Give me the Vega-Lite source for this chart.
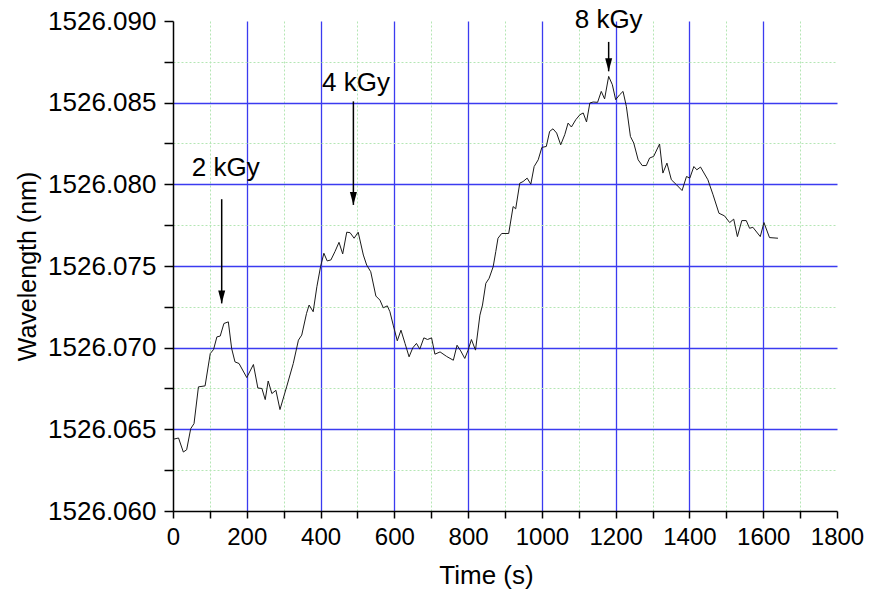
{
  "$schema": "https://vega.github.io/schema/vega-lite/v6.json",
  "width": 664,
  "height": 490,
  "autosize": {"type": "none"},
  "padding": {"left": 173, "top": 21, "right": 32, "bottom": 82},
  "background": "white",
  "config": {"view": {"stroke": null}},
  "datasets": {
    "series": [
      {"t": 0, "w": 1526.06439}, {"t": 15, "w": 1526.06447}, {"t": 28, "w": 1526.06361}, {"t": 37, "w": 1526.06375},
      {"t": 48, "w": 1526.06504}, {"t": 57, "w": 1526.06535}, {"t": 69, "w": 1526.0676}, {"t": 87, "w": 1526.06766},
      {"t": 101, "w": 1526.06964}, {"t": 110, "w": 1526.06989}, {"t": 119, "w": 1526.07066}, {"t": 128, "w": 1526.07071},
      {"t": 138, "w": 1526.07148}, {"t": 150, "w": 1526.07158}, {"t": 159, "w": 1526.06995}, {"t": 168, "w": 1526.06913},
      {"t": 179, "w": 1526.06903}, {"t": 200, "w": 1526.06817}, {"t": 218, "w": 1526.06897}, {"t": 230, "w": 1526.06753},
      {"t": 241, "w": 1526.0675}, {"t": 250, "w": 1526.06682}, {"t": 258, "w": 1526.06796}, {"t": 268, "w": 1526.06719},
      {"t": 279, "w": 1526.06739}, {"t": 290, "w": 1526.06621}, {"t": 308, "w": 1526.0676}, {"t": 326, "w": 1526.06903},
      {"t": 340, "w": 1526.07046}, {"t": 349, "w": 1526.07077}, {"t": 362, "w": 1526.0721}, {"t": 369, "w": 1526.07261},
      {"t": 380, "w": 1526.0722}, {"t": 390, "w": 1526.07373}, {"t": 400, "w": 1526.07496}, {"t": 409, "w": 1526.07578},
      {"t": 418, "w": 1526.07531}, {"t": 428, "w": 1526.07537}, {"t": 439, "w": 1526.07588}, {"t": 450, "w": 1526.07645},
      {"t": 460, "w": 1526.07574}, {"t": 471, "w": 1526.07707}, {"t": 480, "w": 1526.07704}, {"t": 491, "w": 1526.0767},
      {"t": 502, "w": 1526.07707}, {"t": 516, "w": 1526.07567}, {"t": 525, "w": 1526.07506}, {"t": 536, "w": 1526.07465},
      {"t": 550, "w": 1526.07316}, {"t": 561, "w": 1526.07291}, {"t": 570, "w": 1526.07244}, {"t": 581, "w": 1526.07256},
      {"t": 588, "w": 1526.0722}, {"t": 597, "w": 1526.07138}, {"t": 608, "w": 1526.07042}, {"t": 618, "w": 1526.07107},
      {"t": 629, "w": 1526.07026}, {"t": 640, "w": 1526.06944}, {"t": 650, "w": 1526.06999}, {"t": 660, "w": 1526.07026},
      {"t": 669, "w": 1526.06991}, {"t": 680, "w": 1526.0706}, {"t": 690, "w": 1526.0705}, {"t": 701, "w": 1526.0706},
      {"t": 710, "w": 1526.0696}, {"t": 724, "w": 1526.06974}, {"t": 742, "w": 1526.06946}, {"t": 760, "w": 1526.06923},
      {"t": 770, "w": 1526.07015}, {"t": 780, "w": 1526.0698}, {"t": 791, "w": 1526.06934}, {"t": 800, "w": 1526.06985},
      {"t": 809, "w": 1526.0705}, {"t": 820, "w": 1526.06985}, {"t": 832, "w": 1526.07199}, {"t": 839, "w": 1526.07261},
      {"t": 848, "w": 1526.07394}, {"t": 857, "w": 1526.07425}, {"t": 868, "w": 1526.07496}, {"t": 875, "w": 1526.07588},
      {"t": 881, "w": 1526.0767}, {"t": 891, "w": 1526.07699}, {"t": 910, "w": 1526.07699}, {"t": 922, "w": 1526.07864},
      {"t": 929, "w": 1526.0785}, {"t": 940, "w": 1526.08007}, {"t": 949, "w": 1526.08017}, {"t": 960, "w": 1526.08038},
      {"t": 970, "w": 1526.08001}, {"t": 979, "w": 1526.08109}, {"t": 990, "w": 1526.0815}, {"t": 1000, "w": 1526.08226},
      {"t": 1012, "w": 1526.08232}, {"t": 1021, "w": 1526.08324}, {"t": 1030, "w": 1526.0834}, {"t": 1040, "w": 1526.08314},
      {"t": 1051, "w": 1526.08242}, {"t": 1062, "w": 1526.08304}, {"t": 1071, "w": 1526.08375}, {"t": 1080, "w": 1526.08351},
      {"t": 1092, "w": 1526.08396}, {"t": 1103, "w": 1526.08426}, {"t": 1112, "w": 1526.08437}, {"t": 1121, "w": 1526.08382},
      {"t": 1130, "w": 1526.08498}, {"t": 1139, "w": 1526.08504}, {"t": 1151, "w": 1526.08502}, {"t": 1161, "w": 1526.08569},
      {"t": 1170, "w": 1526.08523}, {"t": 1181, "w": 1526.08661}, {"t": 1191, "w": 1526.0861}, {"t": 1200, "w": 1526.08518},
      {"t": 1211, "w": 1526.08549}, {"t": 1220, "w": 1526.08569}, {"t": 1229, "w": 1526.08477}, {"t": 1240, "w": 1526.08293},
      {"t": 1249, "w": 1526.08253}, {"t": 1261, "w": 1526.0815}, {"t": 1272, "w": 1526.08115}, {"t": 1283, "w": 1526.08115},
      {"t": 1292, "w": 1526.08161}, {"t": 1303, "w": 1526.08171}, {"t": 1319, "w": 1526.08247}, {"t": 1328, "w": 1526.08069},
      {"t": 1339, "w": 1526.0813}, {"t": 1351, "w": 1526.08028}, {"t": 1365, "w": 1526.07997}, {"t": 1380, "w": 1526.07962},
      {"t": 1392, "w": 1526.08048}, {"t": 1401, "w": 1526.08038}, {"t": 1412, "w": 1526.08109}, {"t": 1420, "w": 1526.08089},
      {"t": 1430, "w": 1526.08106}, {"t": 1450, "w": 1526.08028}, {"t": 1464, "w": 1526.07936}, {"t": 1480, "w": 1526.07823},
      {"t": 1495, "w": 1526.07807}, {"t": 1509, "w": 1526.07766}, {"t": 1520, "w": 1526.07787}, {"t": 1530, "w": 1526.0768},
      {"t": 1542, "w": 1526.07778}, {"t": 1554, "w": 1526.07778}, {"t": 1563, "w": 1526.07731}, {"t": 1572, "w": 1526.07737},
      {"t": 1592, "w": 1526.0768}, {"t": 1602, "w": 1526.07766}, {"t": 1617, "w": 1526.07674}, {"t": 1640, "w": 1526.0767}
    ],
    "arrows": [
      {"t": 132, "w": 1526.07909, "w2": 1526.07271},
      {"t": 489, "w": 1526.08508, "w2": 1526.07874},
      {"t": 1181, "w": 1526.08872, "w2": 1526.08692}
    ],
    "labels": [
      {"t": 143, "w": 1526.08048, "label": "2 kGy"},
      {"t": 496, "w": 1526.08569, "label": "4 kGy"},
      {"t": 1181, "w": 1526.08958, "label": "8 kGy"}
    ]
  },
  "encoding": {
    "x": {
      "field": "t",
      "type": "quantitative",
      "scale": {"domain": [0, 1800], "nice": false, "zero": false},
      "axis": {
        "title": "Time (s)",
        "values": [0, 100, 200, 300, 400, 500, 600, 700, 800, 900, 1000, 1100, 1200, 1300, 1400, 1500, 1600, 1700, 1800],
        "format": "d",
        "labelExpr": "datum.value % 200 === 0 ? datum.label : ''",
        "labelFont": "Liberation Sans",
        "labelFontSize": 24,
        "labelColor": "#000000",
        "labelPadding": 7,
        "labelFlush": false,
        "labelOverlap": false,
        "tickSize": 7,
        "tickColor": "#000000",
        "tickWidth": 1.5,
        "domainColor": "#000000",
        "domainWidth": 1.5,
        "titleFont": "Liberation Sans",
        "titleFontSize": 26,
        "titleFontWeight": "normal",
        "titleColor": "#000000",
        "titleX": 313,
        "titleY": 64,
        "titleBaseline": "middle",
        "grid": true,
        "gridColor": {"condition": {"test": "datum.value % 200 === 0", "value": "#3b3bf0"}, "value": "#b4e6b4"},
        "gridDash": {"condition": {"test": "datum.value % 200 === 0", "value": []}, "value": [2, 2]},
        "gridWidth": {"condition": {"test": "datum.value % 200 === 0", "value": 1.3}, "value": 1},
        "gridOpacity": {"condition": {"test": "datum.value === 0 || datum.value === 1800", "value": 0}, "value": 1}
      }
    },
    "y": {
      "field": "w",
      "type": "quantitative",
      "scale": {"domain": [1526.06, 1526.09], "nice": false, "zero": false},
      "axis": {
        "title": "Wavelength (nm)",
        "values": [1526.06, 1526.0625, 1526.065, 1526.0675, 1526.07, 1526.0725, 1526.075, 1526.0775, 1526.08, 1526.0825, 1526.085, 1526.0875, 1526.09],
        "format": ".3f",
        "labelExpr": "round(datum.value * 400) % 2 === 0 ? datum.label : ''",
        "labelFont": "Liberation Sans",
        "labelFontSize": 26,
        "labelColor": "#000000",
        "labelPadding": 8,
        "labelFlush": false,
        "labelOverlap": false,
        "tickSize": 9,
        "tickColor": "#000000",
        "tickWidth": 1.5,
        "domainColor": "#000000",
        "domainWidth": 1.5,
        "titleFont": "Liberation Sans",
        "titleFontSize": 25,
        "titleFontWeight": "normal",
        "titleColor": "#000000",
        "titleAngle": -90,
        "titleX": -146,
        "titleY": 245,
        "titleBaseline": "middle",
        "grid": true,
        "gridColor": {"condition": {"test": "round(datum.value * 400) % 2 === 0", "value": "#3b3bf0"}, "value": "#b4e6b4"},
        "gridDash": {"condition": {"test": "round(datum.value * 400) % 2 === 0", "value": []}, "value": [2, 2]},
        "gridWidth": {"condition": {"test": "round(datum.value * 400) % 2 === 0", "value": 1.3}, "value": 1},
        "gridOpacity": {"condition": {"test": "datum.value > 1526.0899 || datum.value < 1526.0601", "value": 0}, "value": 1}
      }
    }
  },
  "layer": [
    {
      "data": {"name": "series"},
      "mark": {"type": "line", "color": "#1a1a1a", "strokeWidth": 1}
    },
    {
      "data": {"name": "arrows"},
      "mark": {"type": "rule", "color": "#000000", "strokeWidth": 1.5},
      "encoding": {"y2": {"field": "w2"}}
    },
    {
      "data": {"name": "arrows"},
      "mark": {"type": "point", "shape": "M-1,-3.7L1,-3.7L0,0Z", "filled": true, "color": "#000000", "size": 49, "opacity": 1, "strokeWidth": 0},
      "encoding": {"y": {"field": "w2", "type": "quantitative"}}
    },
    {
      "data": {"name": "labels"},
      "mark": {"type": "text", "font": "Liberation Sans", "fontSize": 26, "align": "center", "baseline": "alphabetic", "color": "#000000"},
      "encoding": {"text": {"field": "label"}}
    }
  ]
}
